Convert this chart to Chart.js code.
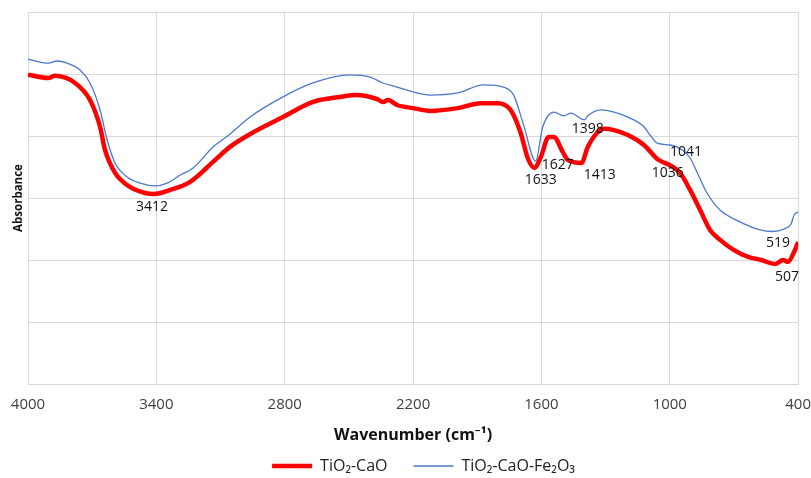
<!DOCTYPE html>
<html>
<head>
<meta charset="utf-8">
<script src="https://cdn.jsdelivr.net/npm/chart.js@4"></script>
<style>
  html, body { margin: 0; padding: 0; background: #fff; }
  #wrap { width: 811px; height: 478px; }
</style>
</head>
<body>
<div id="wrap"><canvas id="myChart" width="811" height="478"></canvas></div>
<script>
// wavenumbers (cm-1) and absorbance
const caoWave = [4000, 3906, 3874, 3780, 3710, 3663, 3640, 3593, 3522, 3452, 3412, 3335, 3242, 3125, 3056, 2962, 2808, 2668, 2541, 2462, 2401, 2368, 2340, 2317, 2275, 2200, 2121, 1992, 1884, 1805, 1744, 1697, 1664, 1633, 1603, 1566, 1542, 1500, 1477, 1413, 1383, 1336, 1308, 1261, 1196, 1121, 1055, 1000, 952, 905, 858, 812, 765, 700, 634, 573, 507, 470, 447, 419, 400];
const caoAbs = [0.998, 0.987, 0.994, 0.971, 0.916, 0.829, 0.755, 0.681, 0.635, 0.616, 0.613, 0.626, 0.652, 0.723, 0.765, 0.806, 0.861, 0.910, 0.926, 0.932, 0.926, 0.919, 0.910, 0.916, 0.900, 0.890, 0.881, 0.890, 0.906, 0.906, 0.884, 0.810, 0.729, 0.697, 0.732, 0.797, 0.797, 0.748, 0.723, 0.713, 0.765, 0.813, 0.823, 0.819, 0.803, 0.771, 0.724, 0.706, 0.681, 0.626, 0.561, 0.497, 0.465, 0.432, 0.410, 0.400, 0.387, 0.400, 0.394, 0.426, 0.458];

const feWave = [4000, 3906, 3864, 3817, 3757, 3710, 3663, 3630, 3593, 3537, 3476, 3405, 3349, 3288, 3228, 3134, 3056, 2962, 2808, 2668, 2495, 2401, 2340, 2275, 2200, 2121, 1992, 1870, 1777, 1730, 1683, 1627, 1594, 1542, 1495, 1463, 1398, 1383, 1322, 1261, 1196, 1121, 1092, 1059, 998, 942, 905, 873, 826, 765, 672, 578, 519, 466, 433, 419, 400];
const feAbs = [1.048, 1.035, 1.042, 1.035, 1.013, 0.971, 0.884, 0.787, 0.713, 0.668, 0.648, 0.639, 0.648, 0.674, 0.697, 0.765, 0.806, 0.861, 0.926, 0.971, 0.997, 0.990, 0.971, 0.958, 0.942, 0.932, 0.939, 0.965, 0.958, 0.932, 0.835, 0.719, 0.829, 0.877, 0.865, 0.874, 0.852, 0.865, 0.884, 0.877, 0.861, 0.830, 0.803, 0.777, 0.771, 0.755, 0.729, 0.684, 0.616, 0.561, 0.523, 0.497, 0.492, 0.500, 0.516, 0.545, 0.555];

// peak labels: text, wavenumber, absorbance where the text sits
const peakText = ['3412', '1633', '1627', '1413', '1398', '1036', '1041', '519', '507'];
const peakWave = [3420, 1603, 1524, 1327, 1383, 1009, 924, 494, 452];
const peakAbs = [0.571, 0.658, 0.706, 0.674, 0.823, 0.681, 0.748, 0.455, 0.345];

const xTicks = [4000, 3400, 2800, 2200, 1600, 1000, 400];

function toPoints(xs, ys) {
    return xs.map((x, i) => ({ x: x, y: ys[i] }));
}

const FONT = "'Open Sans', 'Noto Sans', 'DejaVu Sans', sans-serif";

const peakLabels = {
    id: 'peakLabels',
    afterDatasetsDraw(chart) {
        const c = chart.ctx;
        const xs = chart.scales.x, ys = chart.scales.y;
        c.save();
        c.font = '14px ' + FONT;
        c.fillStyle = '#111';
        c.textAlign = 'center';
        c.textBaseline = 'middle';
        for (let i = 0; i < peakText.length; i++) {
            c.fillText(peakText[i], xs.getPixelForValue(peakWave[i]), ys.getPixelForValue(peakAbs[i]));
        }
        c.restore();
    }
};

// legend sits a bit right of centre in the original
const legendShift = {
    id: 'legendShift',
    afterLayout(chart) {
        chart.legend.left += 18;
        chart.legend.right += 18;
    }
};

var ctx = document.getElementById('myChart').getContext('2d');

var chart = new Chart(ctx, {
    type: 'line',
    data: {
        datasets: [{
            label: 'TiO₂-CaO',
            data: toPoints(caoWave, caoAbs),
            borderColor: '#ff0000',
            backgroundColor: '#ff0000',
            borderWidth: 4.5,
            pointRadius: 0,
            cubicInterpolationMode: 'monotone'
        }, {
            label: 'TiO₂-CaO-Fe₂O₃',
            data: toPoints(feWave, feAbs),
            borderColor: '#4a78cf',
            backgroundColor: '#4a78cf',
            borderWidth: 1.3,
            pointRadius: 0,
            cubicInterpolationMode: 'monotone'
        }]
    },
    options: {
        responsive: false,
        animation: false,
        layout: { padding: { left: 0, right: 0, top: 12, bottom: 0 } },
        plugins: {
            tooltip: { enabled: false },
            legend: {
                position: 'bottom',
                maxHeight: 46,
                labels: {
                    usePointStyle: true,
                    pointStyle: 'line',
                    pointStyleWidth: 40,
                    padding: 26,
                    color: '#222',
                    font: { family: FONT, size: 16 }
                }
            }
        },
        scales: {
            x: {
                type: 'linear',
                reverse: true,
                min: 400,
                max: 4000,
                afterBuildTicks: axis => { axis.ticks = xTicks.map(v => ({ value: v })); },
                ticks: {
                    padding: 0,
                    maxRotation: 0,
                    color: '#404040',
                    font: { family: FONT, size: 15 },
                    callback: v => String(v)
                },
                grid: { color: '#d9d9d9', drawTicks: true, tickLength: 12, tickColor: 'rgba(0,0,0,0)' },
                border: { color: '#d9d9d9' },
                title: {
                    display: true,
                    text: 'Wavenumber (cm⁻¹)',
                    color: '#111',
                    font: { family: FONT, size: 16, weight: 'bold' },
                    padding: { top: 11.4, bottom: -12.6 }
                }
            },
            y: {
                min: 0,
                max: 1.2,
                ticks: { display: false, stepSize: 0.2 },
                grid: { color: '#d9d9d9', drawTicks: false },
                border: { display: false },
                title: {
                    display: true,
                    text: 'Absorbance',
                    color: '#111',
                    font: { family: FONT, size: 11.5, weight: 'bold' },
                    padding: { top: 11.6, bottom: 2.6 }
                }
            }
        }
    },
    plugins: [peakLabels, legendShift]
});
</script>
</body>
</html>
